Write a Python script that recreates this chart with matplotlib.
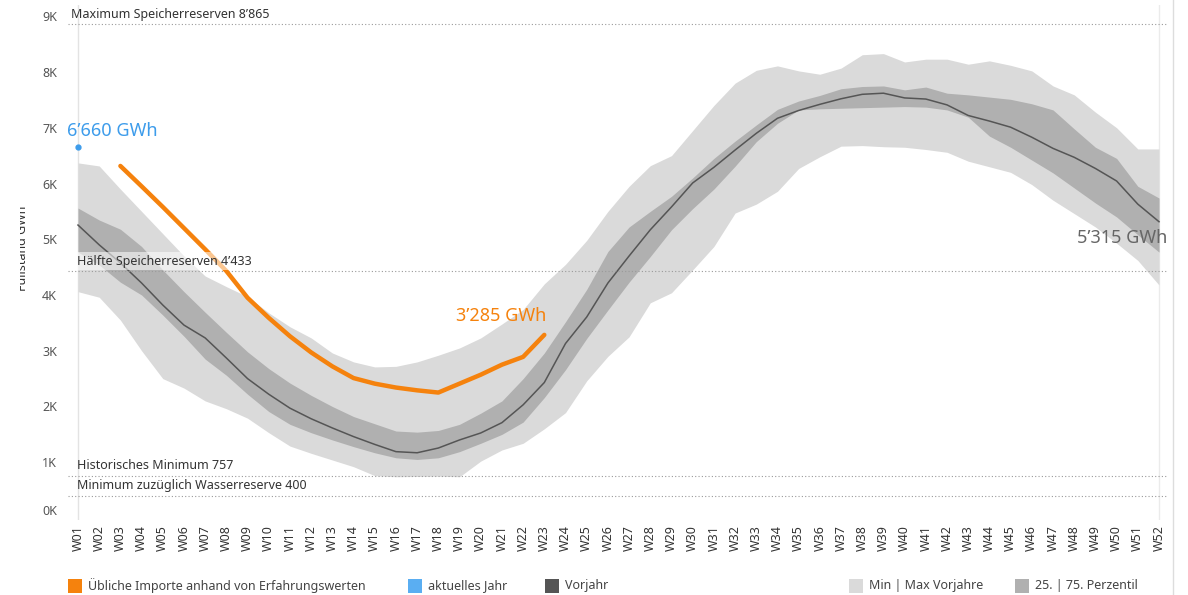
import matplotlib
matplotlib.use("Agg")
import matplotlib.pyplot as plt
from matplotlib.patches import Rectangle
from matplotlib.transforms import Bbox, TransformedBbox, ScaledTranslation
import numpy as np

plt.rcParams['font.family'] = ['Noto Sans', 'DejaVu Sans']

weeks = [f"W{i:02d}" for i in range(1, 53)]

vorjahr = [5255, 4900, 4575, 4215, 3820, 3460, 3230, 2870, 2500, 2220,
           1970, 1780, 1615, 1460, 1320, 1190, 1170, 1255, 1400, 1525,
           1710, 2030, 2430, 3130, 3605, 4215, 4700, 5170, 5580, 6010,
           6290, 6600, 6900, 7170, 7310, 7420, 7520, 7600, 7620, 7535,
           7515, 7410, 7220, 7120, 7010, 6830, 6630, 6470, 6270, 6045,
           5630, 5315]

max_vorjahre = [6370, 6315, 5900, 5500, 5100, 4700, 4340, 4150, 3970, 3680,
                3430, 3230, 2960, 2800, 2710, 2720, 2800, 2920, 3050, 3230,
                3480, 3740, 4200, 4550, 4980, 5500, 5950, 6320, 6500, 6950,
                7400, 7800, 8030, 8110, 8020, 7960, 8070, 8310, 8330, 8180,
                8230, 8230, 8140, 8200, 8120, 8020, 7750, 7590, 7280, 7000,
                6620, 6620]

min_vorjahre = [4060, 3960, 3550, 3000, 2500, 2330, 2100, 1960, 1790, 1530,
                1290, 1160, 1040, 920, 760, 740, 745, 750, 740, 1020,
                1220, 1340, 1600, 1890, 2460, 2900, 3250, 3860, 4040, 4450,
                4870, 5470, 5630, 5860, 6270, 6480, 6670, 6680, 6660, 6650,
                6610, 6560, 6400, 6300, 6200, 5980, 5700, 5460, 5220, 4930,
                4620, 4180]

p75 = [5560, 5345, 5180, 4870, 4450, 4060, 3690, 3330, 2980, 2680,
       2420, 2200, 2000, 1820, 1690, 1560, 1540, 1570, 1680, 1880,
       2100, 2500, 2960, 3520, 4100, 4780, 5220, 5500, 5770, 6100,
       6450, 6760, 7050, 7330, 7480, 7580, 7700, 7740, 7750, 7680,
       7730, 7620, 7590, 7550, 7510, 7430, 7320, 6980, 6650, 6450,
       5950, 5740]

p25 = [4770, 4540, 4230, 4000, 3640, 3260, 2850, 2560, 2220, 1910,
       1680, 1530, 1400, 1280, 1170, 1080, 1050, 1080, 1190, 1340,
       1500, 1720, 2160, 2660, 3220, 3730, 4230, 4690, 5170, 5550,
       5900, 6310, 6750, 7080, 7320, 7340, 7350, 7360, 7370, 7380,
       7370, 7320, 7190, 6850, 6650, 6420, 6190, 5920, 5650, 5400,
       5080, 4770]

import_weeks = list(range(3, 24))
importe = [6315, 5950, 5580, 5200, 4820, 4430, 3950, 3590, 3260, 2970,
           2720, 2510, 2410, 2340, 2290, 2250, 2410, 2570, 2750, 2890, 3285]

aktuell_week = 1
aktuell_value = 6660

ref_values = [8865, 4433, 757, 400]
ref_labels = ["Maximum Speicherreserven 8\u2019865",
              "H\u00e4lfte Speicherreserven 4\u2019433",
              "Historisches Minimum 757",
              "Minimum zuz\u00fcglich Wasserreserve 400"]

legend_labels = ["\u00dcbliche Importe anhand von Erfahrungswerten",
                 "aktuelles Jahr", "Vorjahr",
                 "Min | Max Vorjahre", "25. | 75. Perzentil"]

c_orange = '#F5820D'
c_blue = '#3D9CEB'
c_blue_leg = '#5AAEF2'
c_dark = '#555555'
c_light = '#DADADA'
c_mid = '#B0B0B0'

W, H = 1188, 595
fig = plt.figure(figsize=(W / 100, H / 100), dpi=100)
ax = fig.add_axes([68 / W, (H - 520) / H, 1100 / W, 515 / H])

x = np.arange(1, 53)
ax.fill_between(x, min_vorjahre, max_vorjahre, color=c_light, lw=0, zorder=1)
ax.fill_between(x, p25, p75, color=c_mid, lw=0, zorder=2)
ax.plot(x, vorjahr, color=c_dark, lw=1.1, zorder=3)

ax.axvline(1, color='#E3E3E3', lw=1, zorder=0.5)
ax.axvline(52, color='#EBEBEB', lw=1, zorder=0.5)

for v in ref_values:
    ax.axhline(v, color='#9A9A9A', lw=0.8, ls=(0, (1, 2)), zorder=4)

ax.plot(import_weeks, importe, color=c_orange, lw=3.2, zorder=5,
        solid_capstyle='round', solid_joinstyle='round')
ax.plot([aktuell_week], [aktuell_value], 'o', color=c_blue, ms=3.5, zorder=6)

ax.set_xlim(1 - 10 / 21.2, 52 + 9 / 21.2)
ax.set_ylim(-36, 9202)

ax.set_xticks(x)
ax.set_xticklabels(weeks, rotation=90, fontsize=9, color='#333333')
yt = np.arange(0, 10000, 1000)
ax.set_yticks(yt)
ax.set_yticklabels([f"{int(v / 1000)}K" for v in yt], fontsize=9, color='#555555')
ax.tick_params(axis='both', length=0)
ax.tick_params(axis='y', pad=8)
ax.tick_params(axis='x', pad=4)
for s in ax.spines.values():
    s.set_visible(False)

# shift the 0K label up like in the reference
zero_lab = ax.get_yticklabels()[0]
zero_lab.set_transform(zero_lab.get_transform() +
                       ScaledTranslation(0, 8 / 100, fig.dpi_scale_trans))

def ypix(p):
    return (518 - p) / 0.05575

def xpix(p):
    return 1 + (p - 78) / 21.2

ax.text(xpix(71), ypix(14), ref_labels[0], fontsize=9, color='#333333',
        va='center', ha='left', zorder=7)
ax.text(xpix(77), ypix(261), ref_labels[1], fontsize=9, color='#333333',
        va='center', ha='left', zorder=7,
        bbox=dict(facecolor='white', alpha=0.55, edgecolor='none', pad=1.5))
ax.text(xpix(77), ypix(466), ref_labels[2], fontsize=9, color='#333333',
        va='center', ha='left', zorder=7)
ax.text(xpix(77), ypix(486), ref_labels[3], fontsize=9, color='#333333',
        va='center', ha='left', zorder=7)

ax.text(xpix(67), ypix(131), "6\u2019660 GWh", fontsize=13, color=c_blue,
        fontweight='medium', va='center', ha='left', zorder=7)
ax.text(xpix(546), ypix(316), "3\u2019285 GWh", fontsize=13, color=c_orange,
        fontweight='medium', va='center', ha='right', zorder=7)
ax.text(xpix(1168), ypix(238), "5\u2019315 GWh", fontsize=13, color='#666666',
        fontweight='medium', va='center', ha='right', zorder=7)

# y axis title (clipped at left as in reference)
t = fig.text(23 / W, 1 - 248 / H, "F\u00fcllstand GWh", rotation=90, fontsize=9,
             fontweight='bold', color='#333333', va='center', ha='center')
t.set_clip_box(TransformedBbox(Bbox.from_extents(20 / W, 0, 1, 1), fig.transFigure))
t.set_clip_on(True)

fig.add_artist(plt.Line2D([1173 / W, 1173 / W], [0, 1], color='#DDDDDD', lw=1))

leg_x = [68, 408, 545, 849, 1015]
leg_c = [c_orange, c_blue_leg, c_dark, c_light, c_mid]
for lx, lc, lab in zip(leg_x, leg_c, legend_labels):
    fig.add_artist(Rectangle((lx / W, 1 - 593 / H), 14 / W, 14 / H,
                             transform=fig.transFigure, color=lc, lw=0))
    fig.text((lx + 20) / W, 1 - 586 / H, lab, fontsize=9, color='#444444',
             va='center', ha='left')

fig.savefig("out.png", dpi=100)
